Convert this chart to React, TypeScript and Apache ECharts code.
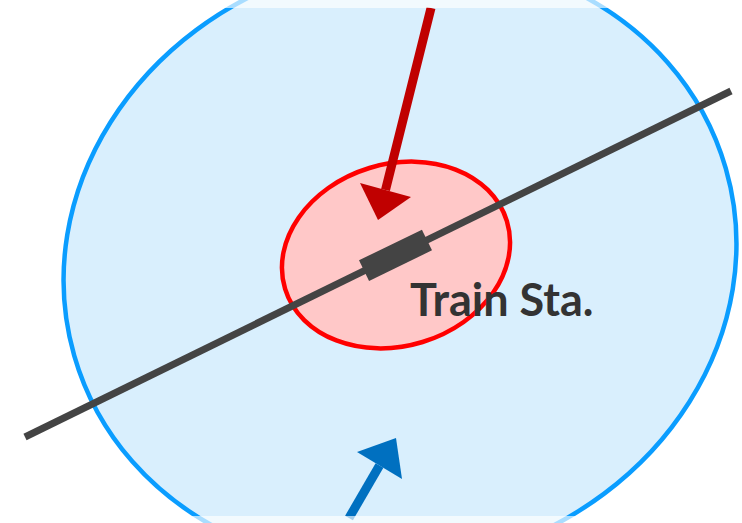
import React, { useEffect, useRef } from "react";
import * as echarts from "echarts";

// Scene units (x to the right, y downward)
const sceneSize = [742, 523];
const outerZone = { center: [400, 262], radii: [339, 303], tiltDeg: 16 };
const stationZone = { center: [396, 255], radii: [116, 91], tiltDeg: 17 };
const trackLine = [[25, 437], [731, 91]];
const trainBox = { center: [395.5, 255.3], size: [70, 23], tiltDeg: 26 };
const redArrow = { start: [431, 8], tip: [378, 220], wings: [[360, 183], [411, 197]] };
const blueArrow = { start: [349, 518], tip: [396, 438], wings: [[357, 452], [402, 479]] };
const stationLabel = { text: "Train Sta.", at: [410, 299] };
const fadeBands = [[0, 8], [516, 523]];

export default function App() {
  const ref = useRef<HTMLDivElement>(null);
  useEffect(() => {
    if (!ref.current) return;
    const chart = echarts.init(ref.current, null, { renderer: "svg" });
    const deg = (d: number) => (d * Math.PI) / 180;
    const renderItem = (_params: any, api: any) => {
      const c = (p: number[]) => api.coord(p);
      const sz = (p: number[]) => api.size(p);
      const ellipse = (z: any, fill: string, stroke: string, lw: number) => {
        const ctr = c(z.center);
        const r = sz(z.radii);
        return {
          type: "ellipse",
          x: ctr[0],
          y: ctr[1],
          rotation: deg(z.tiltDeg),
          shape: { cx: 0, cy: 0, rx: r[0], ry: r[1] },
          style: { fill, stroke, lineWidth: lw },
        };
      };
      const arrow = (a: any, color: string) => {
        const w0 = a.wings[0];
        const w1 = a.wings[1];
        const baseMid = [(w0[0] + w1[0]) / 2, (w0[1] + w1[1]) / 2];
        return [
          {
            type: "line",
            shape: { x1: c(a.start)[0], y1: c(a.start)[1], x2: c(baseMid)[0], y2: c(baseMid)[1] },
            style: { stroke: color, lineWidth: 9, lineCap: "butt" },
          },
          {
            type: "polygon",
            shape: { points: [c(a.tip), c(w0), c(w1)] },
            style: { fill: color },
          },
        ];
      };
      const tc = c(trainBox.center);
      const ts = sz(trainBox.size);
      const children: any[] = [
        ellipse(outerZone, "#d9effd", "#0a9dff", 4.5),
        ellipse(stationZone, "#ffc8c8", "#ff0000", 4.5),
        {
          type: "line",
          shape: {
            x1: c(trackLine[0])[0],
            y1: c(trackLine[0])[1],
            x2: c(trackLine[1])[0],
            y2: c(trackLine[1])[1],
          },
          style: { stroke: "#444444", lineWidth: 7, lineCap: "butt" },
        },
        {
          type: "rect",
          x: tc[0],
          y: tc[1],
          rotation: deg(trainBox.tiltDeg),
          shape: { x: -ts[0] / 2, y: -ts[1] / 2, width: ts[0], height: ts[1] },
          style: { fill: "#444444" },
        },
        ...arrow(redArrow, "#c00000"),
        ...arrow(blueArrow, "#0070c0"),
        {
          type: "text",
          style: {
            text: stationLabel.text,
            x: c(stationLabel.at)[0],
            y: c(stationLabel.at)[1],
            fill: "#333333",
            font: "bold 45px Lato, 'Open Sans', sans-serif",
            align: "left",
            verticalAlign: "middle",
          },
        },
        ...fadeBands.map((b) => {
          const p0 = c([0, b[0]]);
          const p1 = c([sceneSize[0], b[1]]);
          return {
            type: "rect",
            shape: { x: p0[0], y: p0[1], width: p1[0] - p0[0], height: p1[1] - p0[1] },
            style: { fill: "rgba(255,255,255,0.65)" },
          };
        }),
      ];
      return { type: "group", children };
    };
    chart.setOption({
      animation: false,
      grid: { left: 0, right: 0, top: 0, bottom: 0 },
      xAxis: { type: "value", min: 0, max: sceneSize[0], show: false },
      yAxis: { type: "value", min: 0, max: sceneSize[1], inverse: true, show: false },
      series: [
        {
          type: "custom",
          coordinateSystem: "cartesian2d",
          clip: false,
          silent: true,
          data: [[0, 0]],
          renderItem,
        },
      ],
    });
    return () => chart.dispose();
  }, []);
  return (
    <div
      ref={ref}
      style={{ position: "absolute", left: 0, top: 0, width: sceneSize[0], height: sceneSize[1], background: "#ffffff" }}
    />
  );
}
